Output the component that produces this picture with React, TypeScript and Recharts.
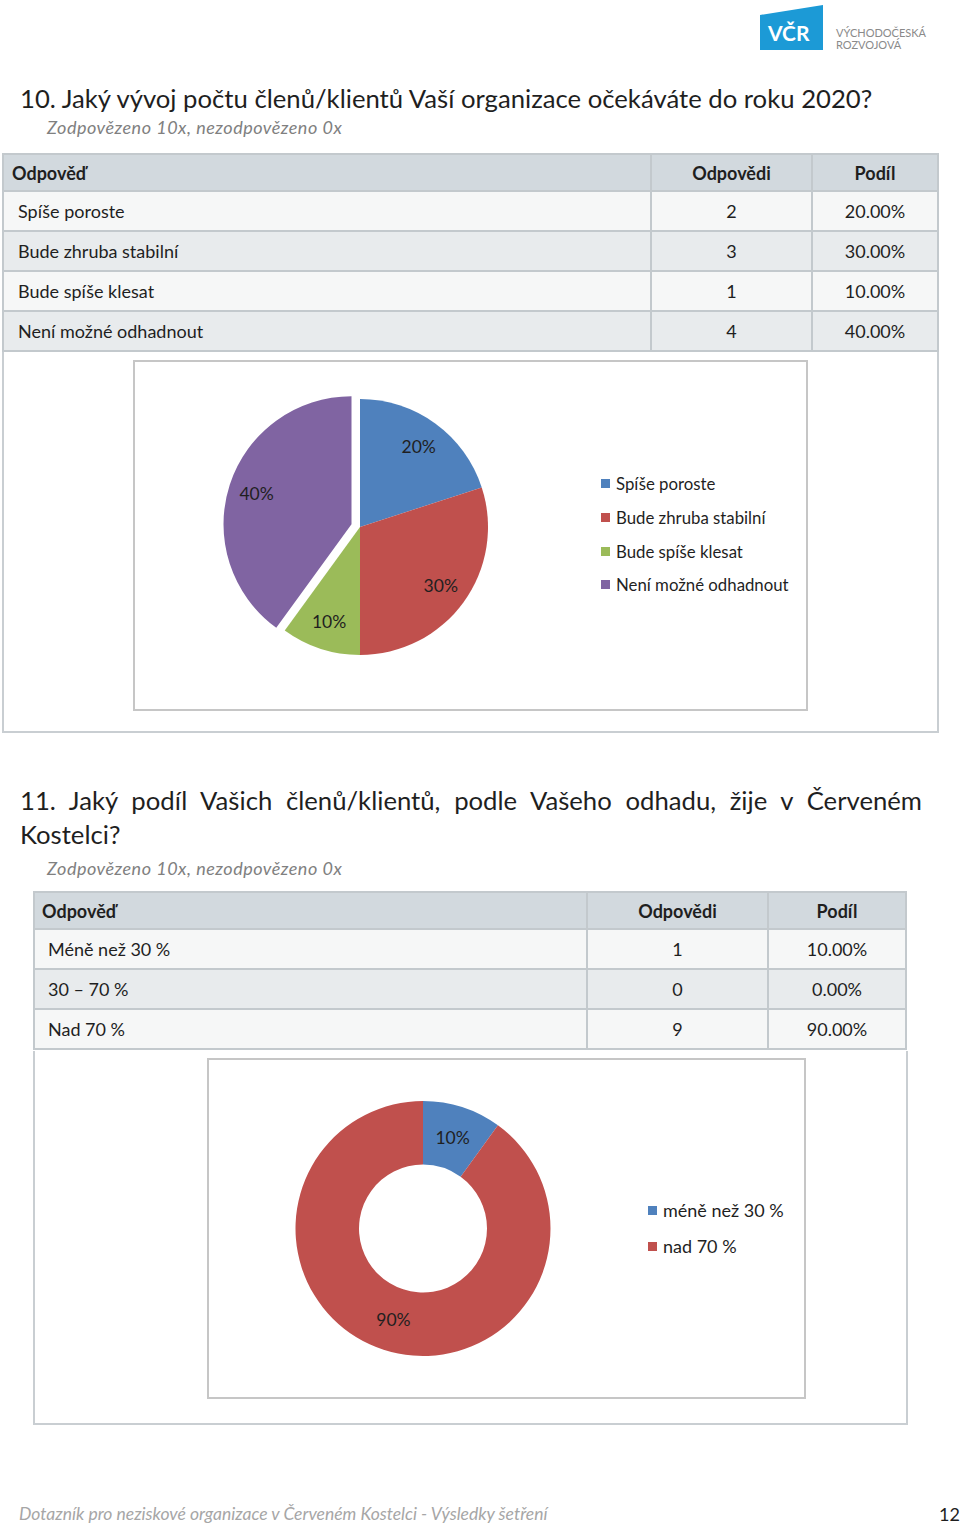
import { PieChart, Pie, Cell, Legend } from "recharts"

// otázka 10
const q10Answers = ["Spíše poroste", "Bude zhruba stabilní", "Bude spíše klesat", "Není možné odhadnout"]
const q10Counts = [2, 3, 1, 4]
const q10Shares = ["20.00%", "30.00%", "10.00%", "40.00%"]

// otázka 11
const q11Answers = ["Méně než 30 %", "30 – 70 %", "Nad 70 %"]
const q11Legend = ["méně než 30 %", "30 – 70 %", "nad 70 %"]
const q11Counts = [1, 0, 9]
const q11Shares = ["10.00%", "0.00%", "90.00%"]

const COLORS = ["#4f81bd", "#c0504d", "#9bbb59", "#8064a2"]
const Q11_COLORS = ["#4f81bd", "#9bbb59", "#c0504d"]
const EXPLODED = 3

const FONT = "Lato, 'Open Sans', sans-serif"
const RAD = Math.PI / 180
const NO_MARGIN = { top: 0, right: 0, bottom: 0, left: 0 }

const q10Data = q10Answers.map((name, i) => ({ name, value: q10Counts[i] }))
const q11Data = q11Legend
  .map((name, i) => ({ name, value: q11Counts[i], color: Q11_COLORS[i] }))
  .filter((d) => d.value > 0)

function makeLabel(radiusFactor: number, only?: number, skip?: number) {
  return (props: any) => {
    const { cx, cy, midAngle, innerRadius, outerRadius, percent, index } = props
    if (only !== undefined && index !== only) return null
    if (skip !== undefined && index === skip) return null
    const r = innerRadius > 0 ? (innerRadius + outerRadius) / 2 : outerRadius * radiusFactor
    const x = cx + r * Math.cos(-midAngle * RAD)
    const y = cy + r * Math.sin(-midAngle * RAD)
    return (
      <text x={x} y={y} fill="#1f1f1f" fontSize={17.5} fontFamily={FONT} textAnchor="middle" dominantBaseline="central">
        {`${Math.round(percent * 100)}%`}
      </text>
    )
  }
}

function LegendList({ items, gap, size }: { items: { name: string; color: string }[]; gap: number; size: number }) {
  return (
    <div style={{ fontFamily: FONT, fontSize: size, color: "#1f1f1f" }}>
      {items.map((it) => (
        <div key={it.name} style={{ display: "flex", alignItems: "center", height: gap }}>
          <span style={{ width: 9, height: 9, background: it.color, marginRight: 6, display: "inline-block" }} />
          {it.name}
        </div>
      ))}
    </div>
  )
}

type TableProps = {
  x: number
  y: number
  widths: number[]
  rows: string[][]
  headX: number
  rowX: number
}

function AnswerTable({ x, y, widths, rows, headX, rowX }: TableProps) {
  const headH = 37
  const rowH = 40
  const total = widths.reduce((a, b) => a + b, 0)
  const cells: JSX.Element[] = []
  const all = [["Odpověď", "Odpovědi", "Podíl"], ...rows]
  all.forEach((row, r) => {
    const top = r === 0 ? 0 : headH + (r - 1) * rowH
    const h = r === 0 ? headH : rowH
    const bg = r === 0 ? "#d2d9de" : r % 2 === 1 ? "#f6f7f7" : "#e8ebed"
    let left = 0
    row.forEach((txt, c) => {
      cells.push(
        <div
          key={`${r}-${c}`}
          style={{
            position: "absolute",
            left,
            top,
            width: widths[c],
            height: h,
            background: bg,
            boxSizing: "border-box",
            borderLeft: c === 0 ? "2px solid #c3c9cd" : "none",
            borderRight: "2px solid #c3c9cd",
            borderBottom: "2px solid #c3c9cd",
            display: "flex",
            alignItems: "center",
            justifyContent: c === 0 ? "flex-start" : "center",
            paddingLeft: c === 0 ? (r === 0 ? headX : rowX) : 0,
            fontWeight: r === 0 ? 700 : 400,
            fontSize: 18,
            color: "#1f1f1f",
          }}
        >
          {txt}
        </div>
      )
      left += widths[c]
    })
  })
  return (
    <div
      style={{
        position: "absolute",
        left: x,
        top: y,
        width: total,
        height: headH + rows.length * rowH,
        borderTop: "2px solid #c3c9cd",
        fontFamily: FONT,
      }}
    >
      {cells}
    </div>
  )
}

export default function App() {
  const q10Rows = q10Answers.map((a, i) => [a, String(q10Counts[i]), q10Shares[i]])
  const q11Rows = q11Answers.map((a, i) => [a, String(q11Counts[i]), q11Shares[i]])
  const q10Legend = q10Answers.map((name, i) => ({ name, color: COLORS[i] }))

  return (
    <div
      style={{
        position: "absolute",
        left: 0,
        top: 0,
        width: 960,
        height: 1526,
        background: "#fff",
        fontFamily: FONT,
        color: "#1f1f1f",
        overflow: "hidden",
      }}
    >
      {/* logo */}
      <svg style={{ position: "absolute", left: 758, top: 3 }} width={170} height={50}>
        <polygon points="2,12 65,2 65,47 2,47" fill="#1c9ad6" />
        <text x={10} y={38} fill="#fff" fontSize={21} fontWeight={700} fontFamily={FONT}>
          VČR
        </text>
        <text x={78} y={34} fill="#8a8a8a" fontSize={11} fontFamily={FONT}>
          VÝCHODOČESKÁ
        </text>
        <text x={78} y={46} fill="#8a8a8a" fontSize={11} fontFamily={FONT}>
          ROZVOJOVÁ
        </text>
      </svg>

      {/* otázka 10 */}
      <div style={{ position: "absolute", left: 20, top: 83, fontSize: 25.7, whiteSpace: "nowrap" }}>
        10. Jaký vývoj počtu členů/klientů Vaší organizace očekáváte do roku 2020?
      </div>
      <div
        style={{
          position: "absolute",
          left: 47,
          top: 116,
          fontSize: 18,
          letterSpacing: 0.5,
          fontStyle: "italic",
          color: "#808080",
        }}
      >
        Zodpovězeno 10x, nezodpovězeno 0x
      </div>
      <AnswerTable x={2} y={153} widths={[650, 161, 126]} rows={q10Rows} headX={8} rowX={14} />
      <div
        style={{
          position: "absolute",
          left: 2,
          top: 352,
          width: 937,
          height: 381,
          boxSizing: "border-box",
          border: "2px solid #c9ced2",
          borderTop: "none",
        }}
      />
      <div
        style={{
          position: "absolute",
          left: 133,
          top: 360,
          width: 675,
          height: 351,
          boxSizing: "border-box",
          border: "2px solid #c6c6c6",
          background: "#fff",
        }}
      >
        <PieChart width={671} height={347} margin={NO_MARGIN}>
          <Pie
            data={q10Data}
            dataKey="value"
            nameKey="name"
            cx={225}
            cy={165}
            outerRadius={128}
            startAngle={90}
            endAngle={-270}
            stroke="none"
            label={makeLabel(0.78, undefined, EXPLODED)}
            labelLine={false}
            isAnimationActive={false}
          >
            {q10Data.map((d, i) => (
              <Cell key={d.name} fill={i === EXPLODED ? "transparent" : COLORS[i]} />
            ))}
          </Pie>
          <Pie
            data={q10Data}
            dataKey="value"
            nameKey="name"
            cx={216.5}
            cy={162.2}
            outerRadius={128}
            startAngle={90}
            endAngle={-270}
            stroke="none"
            label={makeLabel(0.78, EXPLODED)}
            labelLine={false}
            isAnimationActive={false}
          >
            {q10Data.map((d, i) => (
              <Cell key={d.name} fill={i === EXPLODED ? COLORS[i] : "transparent"} />
            ))}
          </Pie>
          <Legend
            layout="vertical"
            wrapperStyle={{ left: 466, top: 105, width: 220 }}
            content={() => <LegendList items={q10Legend} gap={33.7} size={16.8} />}
          />
        </PieChart>
      </div>

      {/* otázka 11 */}
      <div
        style={{
          position: "absolute",
          left: 20,
          top: 783,
          width: 902,
          fontSize: 25.7,
          lineHeight: "34px",
          textAlign: "justify",
        }}
      >
        11. Jaký podíl Vašich členů/klientů, podle Vašeho odhadu, žije v{"\u00a0"}Červeném Kostelci?
      </div>
      <div
        style={{
          position: "absolute",
          left: 47,
          top: 857,
          fontSize: 18,
          letterSpacing: 0.5,
          fontStyle: "italic",
          color: "#808080",
        }}
      >
        Zodpovězeno 10x, nezodpovězeno 0x
      </div>
      <AnswerTable x={33} y={891} widths={[555, 181, 138]} rows={q11Rows} headX={7} rowX={13} />
      <div
        style={{
          position: "absolute",
          left: 33,
          top: 1051,
          width: 875,
          height: 374,
          boxSizing: "border-box",
          border: "2px solid #c9ced2",
          borderTop: "none",
        }}
      />
      <div
        style={{
          position: "absolute",
          left: 207,
          top: 1058,
          width: 599,
          height: 341,
          boxSizing: "border-box",
          border: "2px solid #c6c6c6",
          background: "#fff",
        }}
      >
        <PieChart width={595} height={337} margin={NO_MARGIN}>
          <Pie
            data={q11Data}
            dataKey="value"
            nameKey="name"
            cx={214}
            cy={168.5}
            innerRadius={64}
            outerRadius={127.5}
            startAngle={90}
            endAngle={-270}
            stroke="none"
            label={makeLabel(0.75)}
            labelLine={false}
            isAnimationActive={false}
          >
            {q11Data.map((d) => (
              <Cell key={d.name} fill={d.color} />
            ))}
          </Pie>
          <Legend
            layout="vertical"
            wrapperStyle={{ left: 439, top: 132, width: 160 }}
            content={() => <LegendList items={q11Data} gap={36} size={18} />}
          />
        </PieChart>
      </div>

      {/* zápatí */}
      <div style={{ position: "absolute", left: 19, top: 1503, fontSize: 17.5, fontStyle: "italic", color: "#a6a6a6" }}>
        Dotazník pro neziskové organizace v Červeném Kostelci - Výsledky šetření
      </div>
      <div style={{ position: "absolute", left: 939, top: 1503, fontSize: 18, color: "#1f1f1f" }}>12</div>
    </div>
  )
}
